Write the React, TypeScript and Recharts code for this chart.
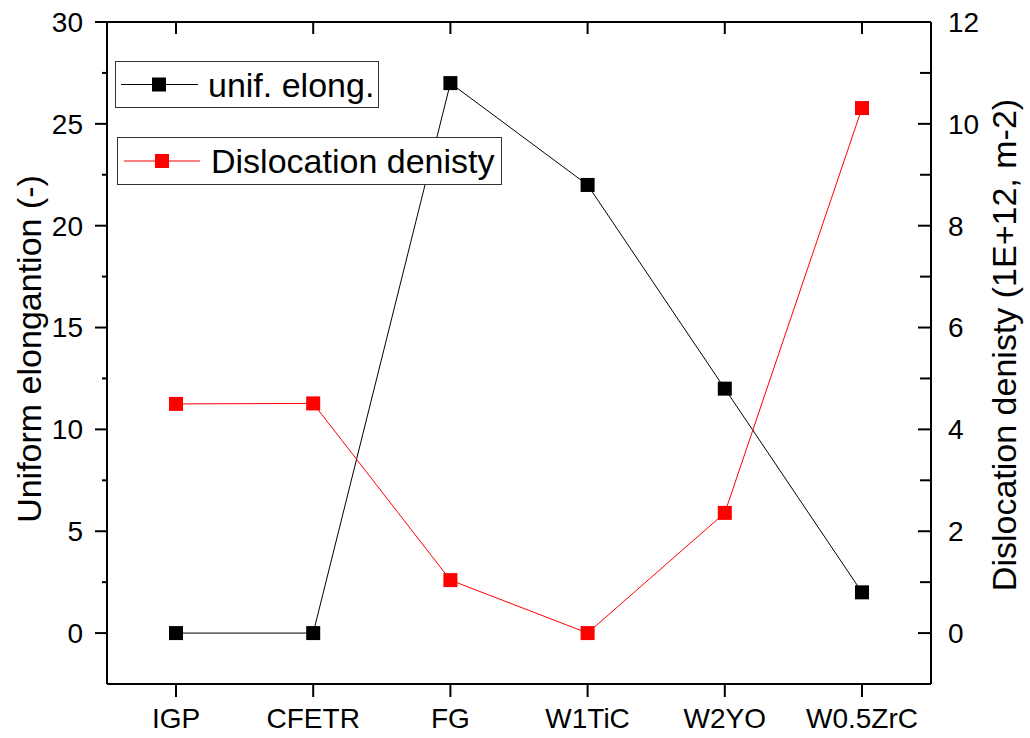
import React from 'react';
import { Legend, Line, LineChart, XAxis, YAxis } from 'recharts';

// values
const categories = ['IGP', 'CFETR', 'FG', 'W1TiC', 'W2YO', 'W0.5ZrC'];
const uniformElongation = [0, 0, 27, 22, 12, 2];
const dislocationDensity = [4.5, 4.51, 1.04, 0, 2.36, 10.31];

const leftMajorTicks = [0, 5, 10, 15, 20, 25, 30];
const leftMinorTicks = [2.5, 7.5, 12.5, 17.5, 22.5, 27.5];
const rightMajorTicks = [0, 2, 4, 6, 8, 10, 12];
const rightMinorTicks = [1, 3, 5, 7, 9, 11];

const seriesNames = ['unif. elong.', 'Dislocation denisty'];
const seriesColors = ['#000000', '#ff0000'];

const FONT = '"Liberation Sans", Arial, sans-serif';
const axisStroke = { stroke: '#000', strokeWidth: 2 };
// half a category slot on each side, like Origin's categorical axis
const xPadding = { left: 69, right: 69 };
const CHART_W = 1030;
const CHART_H = 738;
const TOP_H = 22;
const BOTTOM_H = 54;
const PLOT_H = CHART_H - TOP_H - BOTTOM_H;

const data = categories.map((name, i) => ({
  name,
  elong: uniformElongation[i],
  disl: dislocationDensity[i],
}));

const leftTicks = [...leftMajorTicks, ...leftMinorTicks].sort((a, b) => a - b);
const rightTicks = [...rightMajorTicks, ...rightMinorTicks].sort((a, b) => a - b);

const makeSquare = (color: string) => (props: any) => {
  const { cx, cy, index } = props;
  if (cx == null || cy == null) return <g key={index} />;
  return <rect key={index} x={cx - 7} y={cy - 7} width={14} height={14} fill={color} />;
};

const NoTick = () => <g />;

// bottom axis: 13px outward tick + label, plus the matching 12px inward tick on the top frame
const BottomTick = (props: any) => {
  const { x, y, payload } = props;
  const axisY = y - 13 - 11;
  const topY = axisY - PLOT_H;
  return (
    <g>
      <line x1={x} x2={x} y1={axisY} y2={axisY + 13} stroke="#000" strokeWidth={2} />
      <line x1={x} x2={x} y1={topY} y2={topY + 12} stroke="#000" strokeWidth={2} />
      <text x={x} y={y} dy="0.71em" textAnchor="middle" fontSize={28} fill="#000">
        {payload.value}
      </text>
    </g>
  );
};

// left axis: outward ticks (12px major / 5px minor), tickMargin 12
const LeftTick = (props: any) => {
  const { x, y, payload } = props;
  const major = leftMajorTicks.includes(payload.value);
  const axisX = x + 12 + 12;
  return (
    <g>
      <line x1={axisX - (major ? 12 : 5)} x2={axisX} y1={y} y2={y} stroke="#000" strokeWidth={2} />
      {major && (
        <text x={x} y={y} dy="0.355em" textAnchor="end" fontSize={28} fill="#000">
          {payload.value}
        </text>
      )}
    </g>
  );
};

// right axis: inward ticks (13px major / 11px minor), labels 30px from tick end
const RightTick = (props: any) => {
  const { x, y, payload } = props;
  const major = rightMajorTicks.includes(payload.value);
  const axisX = x - 30 + 13;
  return (
    <g>
      <line x1={axisX - (major ? 13 : 11)} x2={axisX} y1={y} y2={y} stroke="#000" strokeWidth={2} />
      {major && (
        <text x={x} y={y} dy="0.355em" textAnchor="start" fontSize={28} fill="#000">
          {payload.value}
        </text>
      )}
    </g>
  );
};

const LeftTitle = (props: any) => {
  const { viewBox } = props;
  const x = viewBox.x + 29;
  const y = viewBox.y + viewBox.height / 2 - 4;
  return (
    <text
      x={x}
      y={y}
      transform={`rotate(-90, ${x}, ${y})`}
      textAnchor="middle"
      dominantBaseline="central"
      fontSize={34}
      fill="#000"
    >
      Uniform elongantion (-)
    </text>
  );
};

const RightTitle = (props: any) => {
  const { viewBox } = props;
  const x = viewBox.x + 73;
  const y = viewBox.y + viewBox.height / 2 - 8;
  return (
    <text
      x={x}
      y={y}
      transform={`rotate(-90, ${x}, ${y})`}
      textAnchor="middle"
      dominantBaseline="central"
      fontSize={34}
      fill="#000"
    >
      Dislocation denisty (1E+12, m-2)
    </text>
  );
};

// two separate framed legend boxes, like the Origin plot
const legendBoxes = [
  { left: 115, top: 61, width: 264, height: 47, lineFrom: 5, lineTo: 82, marker: 43, text: 92 },
  { left: 117, top: 137, width: 385, height: 48, lineFrom: 6, lineTo: 82, marker: 44, text: 93 },
];

const LegendContent = () => (
  <div style={{ position: 'relative', width: 0, height: 0 }}>
    {legendBoxes.map((b, i) => (
      <div
        key={seriesNames[i]}
        style={{
          position: 'absolute',
          left: b.left,
          top: b.top,
          width: b.width,
          height: b.height,
          boxSizing: 'border-box',
          border: '1px solid #333',
          background: '#fff',
        }}
      >
        <svg width={b.text} height={b.height - 2} style={{ position: 'absolute', left: 0, top: 0 }}>
          <line
            x1={b.lineFrom}
            x2={b.lineTo}
            y1={(b.height - 2) / 2}
            y2={(b.height - 2) / 2}
            stroke={seriesColors[i]}
            strokeWidth={1}
          />
          <rect x={b.marker - 7} y={(b.height - 2) / 2 - 7} width={14} height={14} fill={seriesColors[i]} />
        </svg>
        <div
          style={{
            position: 'absolute',
            left: b.text,
            top: 0,
            height: b.height - 2,
            display: 'flex',
            alignItems: 'center',
            fontSize: 34,
            lineHeight: 1,
            color: '#000',
            whiteSpace: 'nowrap',
          }}
        >
          {seriesNames[i]}
        </div>
      </div>
    ))}
  </div>
);

export default function App() {
  return (
    <div style={{ position: 'absolute', left: 0, top: 0, width: CHART_W, height: CHART_H, background: '#fff', fontFamily: FONT }}>
      <LineChart width={CHART_W} height={CHART_H} data={data} margin={{ top: 0, right: 0, bottom: 0, left: 0 }}>
        <XAxis
          xAxisId="bottom"
          dataKey="name"
          height={BOTTOM_H}
          interval={0}
          padding={xPadding}
          tickSize={13}
          tickMargin={11}
          axisLine={axisStroke}
          tickLine={false}
          tick={<BottomTick />}
        />
        <XAxis
          xAxisId="top"
          dataKey="name"
          orientation="top"
          height={TOP_H}
          interval={0}
          padding={xPadding}
          axisLine={axisStroke}
          tickLine={false}
          tick={NoTick}
        />
        <YAxis
          yAxisId="left"
          width={107}
          domain={[-2.5, 30]}
          ticks={leftTicks}
          interval={0}
          tickSize={12}
          tickMargin={12}
          axisLine={axisStroke}
          tickLine={false}
          tick={<LeftTick />}
          label={<LeftTitle />}
        />
        <YAxis
          yAxisId="right"
          orientation="right"
          width={99}
          domain={[-1, 12]}
          ticks={rightTicks}
          interval={0}
          tickSize={-13}
          tickMargin={30}
          axisLine={axisStroke}
          tickLine={false}
          tick={<RightTick />}
          label={<RightTitle />}
        />
        <Legend
          content={<LegendContent />}
          wrapperStyle={{ left: 0, top: 0, width: 0, height: 0 }}
        />
        <Line
          xAxisId="top"
          yAxisId="left"
          type="linear"
          dataKey="elong"
          name={seriesNames[0]}
          stroke={seriesColors[0]}
          strokeWidth={1}
          dot={makeSquare(seriesColors[0])}
          activeDot={false}
          isAnimationActive={false}
        />
        <Line
          xAxisId="bottom"
          yAxisId="right"
          type="linear"
          dataKey="disl"
          name={seriesNames[1]}
          stroke={seriesColors[1]}
          strokeWidth={1}
          dot={makeSquare(seriesColors[1])}
          activeDot={false}
          isAnimationActive={false}
        />
      </LineChart>
    </div>
  );
}
